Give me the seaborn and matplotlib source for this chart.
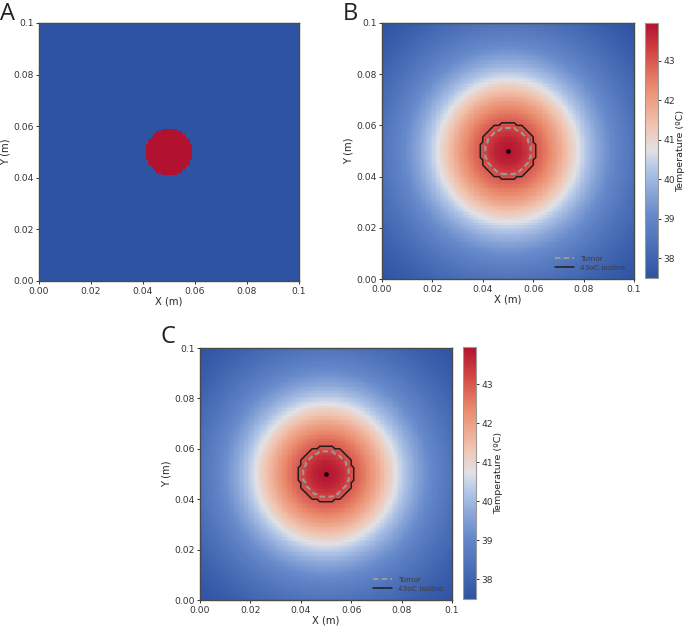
import numpy as np
import matplotlib
matplotlib.use("Agg")
import matplotlib.pyplot as plt
import seaborn as sns
from matplotlib.colors import LinearSegmentedColormap
from matplotlib.lines import Line2D

# ---------------- data ----------------
grid_n = 100                      # cells per side
domain_m = 0.1                    # domain size (m)
center_m = [0.05, 0.05]           # tumor / heating centre
tumor_radius_m = 0.009
profile_r_m = [0.0, 0.005, 0.008, 0.011, 0.0135, 0.0165, 0.0195, 0.022,
               0.025, 0.028, 0.032, 0.036, 0.04, 0.045, 0.05, 0.06, 0.071]
profile_T_C = [43.95, 43.7, 43.4, 43.0, 42.75, 42.4, 42.0, 41.65,
               41.2, 40.7, 40.1, 39.6, 39.2, 38.8, 38.45, 37.9, 37.5]
isoline_C = 43.0
t_min, t_max = 37.5, 43.95
cbar_ticks = [38, 39, 40, 41, 42, 43]
axis_ticks_m = [0.0, 0.02, 0.04, 0.06, 0.08, 0.1]
axis_tick_labels = ["0.00", "0.02", "0.04", "0.06", "0.08", "0.1"]
legend_labels = ["Tumor", "43oC isoline"]
panel_letters = ["A", "B", "C"]
cbar_label = "Temperature (ºC)"

# ---------------- fields ----------------
dx = domain_m / grid_n
cc = (np.arange(grid_n) + 0.5) * dx
XX, YY = np.meshgrid(cc, cc)
R = np.hypot(XX - center_m[0], YY - center_m[1])
T = np.interp(R, profile_r_m, profile_T_C)
tumor = (R <= tumor_radius_m).astype(float)
hot = (T >= isoline_C).astype(float)

# ---------------- style ----------------
sns.set_style("ticks")
plt.rcParams["font.family"] = ["DejaVu Sans"]
plt.rcParams["axes.edgecolor"] = "#4a4a4a"
plt.rcParams["xtick.color"] = "#333333"
plt.rcParams["ytick.color"] = "#333333"

cmap = LinearSegmentedColormap.from_list("temp", [
    (0.00, (47/255, 83/255, 163/255)),
    (0.25, (103/255, 138/255, 203/255)),
    (0.42, (175/255, 196/255, 230/255)),
    (0.50, (224/255, 225/255, 230/255)),
    (0.60, (241/255, 196/255, 176/255)),
    (0.75, (234/255, 140/255, 110/255)),
    (0.90, (208/255, 64/255, 64/255)),
    (1.00, (178/255, 18/255, 48/255)),
])

W, H = 685, 626
fig = plt.figure(figsize=(W / 100, H / 100), dpi=100)


def frac(l, t, r, b):
    return [l / W, 1 - b / H, (r - l) / W, (b - t) / H]


TICK_FS = 6.6
LAB_FS = 7.2


def style_axes(ax):
    ax.set_xlim(0, grid_n)
    ax.set_ylim(0, grid_n)
    pos = [v / dx for v in axis_ticks_m]
    ax.set_xticks(pos)
    ax.set_xticklabels(axis_tick_labels, rotation=0, fontsize=TICK_FS)
    ax.set_yticks(pos)
    ax.set_yticklabels(axis_tick_labels, rotation=0, fontsize=TICK_FS)
    for s in ax.spines.values():
        s.set_visible(True)
        s.set_linewidth(1.0)
        s.set_color("#4a4a4a")
    ax.tick_params(length=2.5, width=0.7, pad=1.5)
    ax.set_xlabel("X (m)", fontsize=LAB_FS, labelpad=1)
    ax.set_ylabel("Y (m)", fontsize=LAB_FS, labelpad=2)


def outline(ax, mask, **kw):
    idx = np.arange(grid_n) + 0.5
    ax.contour(idx, idx, mask, levels=[0.5], **kw)


dash = (0, (2.6, 1.6))

# Panel A
axA = fig.add_axes(frac(39, 23, 299, 281))
sns.heatmap(tumor, ax=axA, cmap=cmap, vmin=0, vmax=1, cbar=False,
            xticklabels=False, yticklabels=False, rasterized=True)
style_axes(axA)


def temp_panel(ax_box, cb_box):
    ax = fig.add_axes(frac(*ax_box))
    cax = fig.add_axes(frac(*cb_box))
    sns.heatmap(T, ax=ax, cmap=cmap, vmin=t_min, vmax=t_max, cbar=True,
                cbar_ax=cax, xticklabels=False, yticklabels=False,
                rasterized=True)
    style_axes(ax)
    outline(ax, tumor, colors="#9a9a9a", linewidths=1.5, linestyles=[dash])
    outline(ax, hot, colors="#1e1e1e", linewidths=1.1)
    ax.plot([center_m[0] / dx], [center_m[1] / dx], marker="o", ms=2.2,
            color="k", ls="none")
    handles = [Line2D([], [], color="#9a9a9a", lw=1.5, ls=dash),
               Line2D([], [], color="#1e1e1e", lw=1.1)]
    ax.legend(handles, legend_labels, loc="lower right", frameon=False,
              fontsize=5.4, labelcolor="#3c3c3c", handlelength=2.6,
              borderaxespad=0.7, labelspacing=0.35, handletextpad=0.8)
    cb = ax.collections[0].colorbar
    cb.set_ticks(cbar_ticks)
    cb.ax.tick_params(labelsize=TICK_FS, length=2.5, width=0.7, pad=1.2)
    cb.outline.set_visible(True)
    cb.outline.set_linewidth(0.8)
    cb.outline.set_edgecolor("#9a9a9a")
    cb.set_label(cbar_label, fontsize=6.8, labelpad=0.5)
    return ax


axB = temp_panel((382, 23, 634, 279), (645, 23, 658, 278))
axC = temp_panel((200, 348, 452, 600), (463, 347, 476, 599))

# panel letters
for letter, (px, py) in zip(panel_letters, [(0, 2), (343, 2), (160, 325)]):
    fig.text(px / W, 1 - py / H, letter, fontsize=17,
             family=["Open Sans", "DejaVu Sans"],
             ha="left", va="top", color="#222222")

fig.savefig("out.png", dpi=100)
